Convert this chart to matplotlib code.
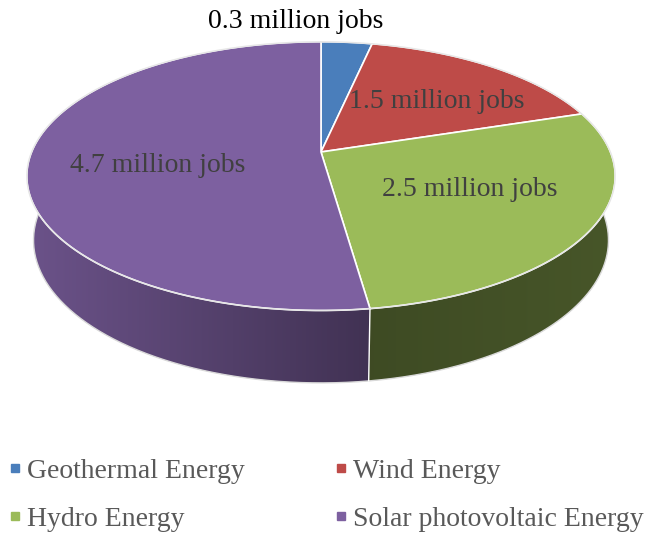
import numpy as np
import matplotlib
matplotlib.use("Agg")
import matplotlib.pyplot as plt
from matplotlib.patches import Polygon, PathPatch
from matplotlib.path import Path
from matplotlib.lines import Line2D

# ------------------------------------------------------------------ data ---
categories = ["Geothermal Energy", "Wind Energy", "Hydro Energy",
              "Solar photovoltaic Energy"]
jobs_million = [0.3, 1.5, 2.5, 4.7]
labels = ["0.3 million jobs", "1.5 million jobs", "2.5 million jobs",
          "4.7 million jobs"]

colors = ["#4a7ebb", "#be4b48", "#9bbb59", "#7d60a0"]
# side-wall shading (left -> right factor of base colour)
wall_shade = [(0.55, 0.50), (0.55, 0.50), (0.40, 0.46), (0.86, 0.52)]
label_pos = [(296, 22), (437, 102), (470, 190), (158, 166)]
label_col = ["#000000", "#404040", "#404040", "#404040"]

# ------------------------------------------------------------ projection ---
CX, CY = 321, 152          # pixel position of the pie centre
TILT = np.radians(26.7)
DIST = 4.976
FOC = 1440.0
H = 0.25                   # pie thickness (radius = 1)
c_t, s_t = np.cos(TILT), np.sin(TILT)


def proj(x, y, z):
    """world (x right, y away, z up) -> pixel coords."""
    depth = y * c_t - z * s_t + DIST
    up = y * s_t + z * c_t
    return CX + FOC * x / depth, CY - FOC * up / depth


FONT = "Liberation Serif"
fig = plt.figure(figsize=(6.45, 5.34), dpi=100)
ax = fig.add_axes([0, 0, 1, 1])
ax.set_xlim(0, 645)
ax.set_ylim(534, 0)
ax.axis("off")

vals = np.array(jobs_million)
bounds = np.concatenate([[0], np.cumsum(vals) / vals.sum() * 2 * np.pi])

# ---- side walls (front part only; back is hidden by the top face) ----
for i in range(len(vals)):
    a = np.linspace(bounds[i], bounds[i + 1], 300)
    a = a[np.cos(a) < 0.05]
    if len(a) < 2:
        continue
    tx, ty = proj(np.sin(a), np.cos(a), 0)
    bx, by = proj(np.sin(a), np.cos(a), -H)
    xs = np.concatenate([tx, bx[::-1]])
    ys = np.concatenate([ty, by[::-1]])
    path = Path(np.column_stack([xs, ys]))
    patch = PathPatch(path, facecolor="none", edgecolor="none")
    ax.add_patch(patch)
    rgb = np.array(matplotlib.colors.to_rgb(colors[i]))
    f0, f1 = wall_shade[i]
    grad = np.linspace(f0, f1, 256)
    img = np.clip(grad[None, :, None] * rgb[None, None, :], 0, 1)
    im = ax.imshow(img, extent=(xs.min(), xs.max(), ys.max(), ys.min()),
                   aspect="auto", zorder=1, interpolation="bilinear")
    im.set_clip_path(patch)
    # outline of the wall bottom
    ax.plot(bx, by, color="#d9d9d9", lw=1.0, zorder=2)
    ax.plot([bx[0], tx[0]], [by[0], ty[0]], color="white", lw=1.0, zorder=2)

# ---- top faces ----
for i in range(len(vals)):
    a = np.linspace(bounds[i], bounds[i + 1], 300)
    ax_, ay_ = proj(np.sin(a), np.cos(a), 0)
    cx, cy = proj(0, 0, 0)
    pts = np.column_stack([np.r_[cx, ax_], np.r_[cy, ay_]])
    ax.add_patch(Polygon(pts, closed=True, facecolor=colors[i],
                         edgecolor="white", lw=1.2, zorder=3))

a = np.linspace(0, 2 * np.pi, 600)
ox, oy = proj(np.sin(a), np.cos(a), 0)
ax.plot(ox, oy, color="#e6e6e6", lw=1.0, zorder=4)

# ---- data labels ----
for (x, y), txt, col in zip(label_pos, labels, label_col):
    ax.text(x, y, txt, ha="center", va="center", fontsize=20,
            family=FONT, color=col, zorder=5)

# ---- legend (row-wise order: matplotlib fills columns first) ----
order = [0, 2, 1, 3]
handles = [Line2D([], [], ls="none", marker="s", markersize=5.5,
                  markerfacecolor=colors[k], markeredgecolor=colors[k])
           for k in order]
ax.legend(handles, [categories[k] for k in order], ncol=2, loc="upper left",
          bbox_to_anchor=(0.01, 0.141), frameon=False,
          prop={"family": FONT, "size": 20}, labelcolor="#595959",
          handlelength=0.6, handletextpad=0.15, columnspacing=3.15,
          labelspacing=0.79, borderaxespad=0, borderpad=0)

fig.savefig("out.png", dpi=100)
